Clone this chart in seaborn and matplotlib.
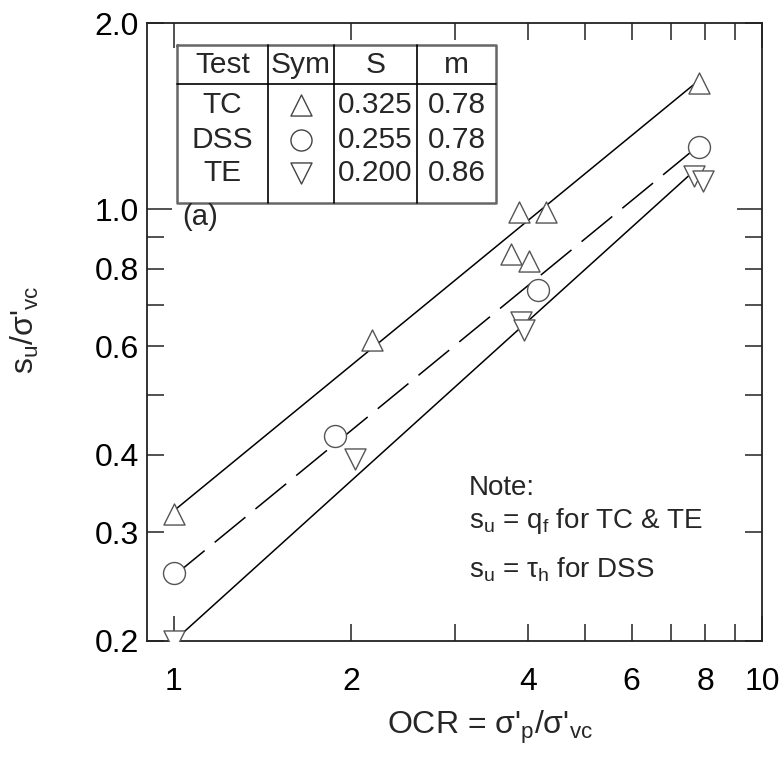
import numpy as np
import pandas as pd
import matplotlib
matplotlib.use("Agg")
import matplotlib.pyplot as plt
import seaborn as sns

# ---------------- data ----------------
tc_ocr = [1.00, 2.17, 3.74, 3.86, 4.01, 4.30, 7.82]
tc_su = [0.321, 0.614, 0.846, 0.990, 0.824, 0.990, 1.60]

dss_ocr = [1.00, 1.88, 4.16, 7.82]
dss_su = [0.258, 0.429, 0.740, 1.26]

te_ocr = [1.00, 2.03, 3.89, 3.94, 7.67, 7.94]
te_su = [0.200, 0.394, 0.656, 0.637, 1.13, 1.11]

tests = ["TC", "DSS", "TE"]
S_vals = [0.325, 0.255, 0.200]
m_vals = [0.78, 0.78, 0.86]
fit_ocr_ends = [1.0, 7.8]

x_major = [1, 10]
x_major_labels = ["1", "10"]
x_minor = [2, 3, 4, 5, 6, 7, 8, 9]
x_minor_labels = ["2", "", "4", "", "6", "", "8", ""]
y_major = [1.0]
y_major_labels = ["1.0"]
y_minor = [0.2, 0.3, 0.4, 0.5, 0.6, 0.7, 0.8, 0.9, 2.0]
y_minor_labels = ["0.2", "0.3", "0.4", "", "0.6", "", "0.8", "", "2.0"]

# ---------------- style ----------------
sns.set_style("ticks")
plt.rcParams["font.family"] = ["Liberation Sans", "DejaVu Sans"]
plt.rcParams["mathtext.fontset"] = "custom"
plt.rcParams["mathtext.rm"] = "Liberation Sans"
plt.rcParams["mathtext.it"] = "Liberation Sans"
plt.rcParams["mathtext.bf"] = "Liberation Sans:bold"

W, H = 784, 762
fig = plt.figure(figsize=(W / 100, H / 100), dpi=100)
ax_l, ax_r, ax_t, ax_b = 147, 762, 23, 641
ax = fig.add_axes([ax_l / W, 1 - ax_b / H, (ax_r - ax_l) / W, (ax_b - ax_t) / H])
ax.set_xscale("log")
ax.set_yscale("log")

line_kw = dict(color="black", linewidth=1.1, zorder=2, ax=ax, legend=False)
styles = ["-", (0, (26, 8.5)), "-"]
for name, S, m, ls in zip(tests, S_vals, m_vals, styles):
    xs = np.array(fit_ocr_ends)
    df = pd.DataFrame({"x": xs, "y": S * xs ** m})
    sns.lineplot(data=df, x="x", y="y", linestyle=ls, **line_kw)

mk_kw = dict(color="white", edgecolor="#555555", linewidth=1.0, zorder=3, ax=ax, legend=False)
sns.scatterplot(x=tc_ocr, y=tc_su, marker="^", s=230, **mk_kw)
sns.scatterplot(x=dss_ocr, y=dss_su, marker="o", s=250, **mk_kw)
sns.scatterplot(x=te_ocr, y=te_su, marker="v", s=230, **mk_kw)

ax.set_xlim(0.9, 10)
ax.set_ylim(0.2, 2.0)

ax.set_xticks(x_major, labels=x_major_labels)
ax.set_xticks(x_minor, labels=x_minor_labels, minor=True)
ax.set_yticks(y_major, labels=y_major_labels)
ax.set_yticks(y_minor, labels=y_minor_labels, minor=True)
ax.tick_params(which="both", direction="in", top=True, right=True, width=1.1,
               color="#222222", labelsize=23, labelcolor="black")
ax.tick_params(which="major", length=18)
ax.tick_params(which="minor", length=12.5)
ax.tick_params(axis="x", which="both", pad=19)
ax.tick_params(axis="y", which="both", pad=6)
for sp in ax.spines.values():
    sp.set_linewidth(1.3)
    sp.set_color("#222222")
ax.set_xlabel("")
ax.set_ylabel("")

fig.text(490 / W, 1 - 734 / H, "OCR = σ'$_\\mathregular{p}$/σ'$_\\mathregular{vc}$",
         ha="center", va="baseline", fontsize=23)
fig.text(34 / W, 1 - 330 / H, "s$_\\mathregular{u}$/σ'$_\\mathregular{vc}$",
         ha="center", va="baseline", rotation=90, rotation_mode="anchor", fontsize=23)

# ---------------- table ----------------
def fx(px):
    return (px - ax_l) / (ax_r - ax_l)

def fy(py):
    return (ax_b - py) / (ax_b - ax_t)

tl, tr, tt, tb = 177, 496, 45, 203
cols = [177, 268, 334, 417, 496]
hdr = 84
tkw = dict(transform=ax.transAxes, clip_on=False, zorder=5)
ax.add_patch(plt.Rectangle((fx(tl), fy(tb)), fx(tr) - fx(tl), fy(tt) - fy(tb),
                           transform=ax.transAxes, facecolor="white", edgecolor="none", zorder=4))
ax.plot([fx(tl), fx(tr), fx(tr), fx(tl), fx(tl)], [fy(tt), fy(tt), fy(tb), fy(tb), fy(tt)],
        color="#666666", linewidth=1.8, **tkw)
ax.plot([fx(tl), fx(tr)], [fy(hdr), fy(hdr)], color="black", linewidth=1.2, **tkw)
for c in cols[1:-1]:
    ax.plot([fx(c), fx(c)], [fy(tt), fy(tb)], color="black", linewidth=1.2, **tkw)

centers = [(cols[i] + cols[i + 1]) / 2 for i in range(4)]
headers = ["Test", "Sym", "S", "m"]
fs_tab = 21.5
for cx, h in zip(centers, headers):
    ax.text(fx(cx), fy(65), h, ha="center", va="center", fontsize=fs_tab,
            transform=ax.transAxes, zorder=5)
row_y = [105, 140, 173]
syms = ["^", "o", "v"]
for ry, name, S, m, sym in zip(row_y, tests, S_vals, m_vals, syms):
    ax.text(fx(centers[0]), fy(ry), name, ha="center", va="center", fontsize=fs_tab, transform=ax.transAxes, zorder=5)
    ax.text(fx(centers[2]), fy(ry), f"{S:.3f}", ha="center", va="center", fontsize=fs_tab, transform=ax.transAxes, zorder=5)
    ax.text(fx(centers[3]), fy(ry), f"{m:.2f}", ha="center", va="center", fontsize=fs_tab, transform=ax.transAxes, zorder=5)
    ax.scatter([fx(centers[1])], [fy(ry)], marker=sym, s=230, facecolor="white",
               edgecolor="#444444", linewidth=1.0, transform=ax.transAxes, zorder=6, clip_on=False)

# ---------------- annotations ----------------
ax.text(fx(182), fy(217), "(a)", ha="left", va="center", fontsize=21, transform=ax.transAxes, zorder=7)
ax.text(fx(469), fy(495), "Note:", ha="left", va="baseline", fontsize=20, transform=ax.transAxes)
ax.text(fx(469), fy(528), "s$_\\mathregular{u}$ = q$_\\mathregular{f}$ for TC & TE",
        ha="left", va="baseline", fontsize=20, transform=ax.transAxes)
ax.text(fx(469), fy(577), "s$_\\mathregular{u}$ = τ$_\\mathregular{h}$ for DSS",
        ha="left", va="baseline", fontsize=20, transform=ax.transAxes)

fig.savefig("out.png", dpi=100)
